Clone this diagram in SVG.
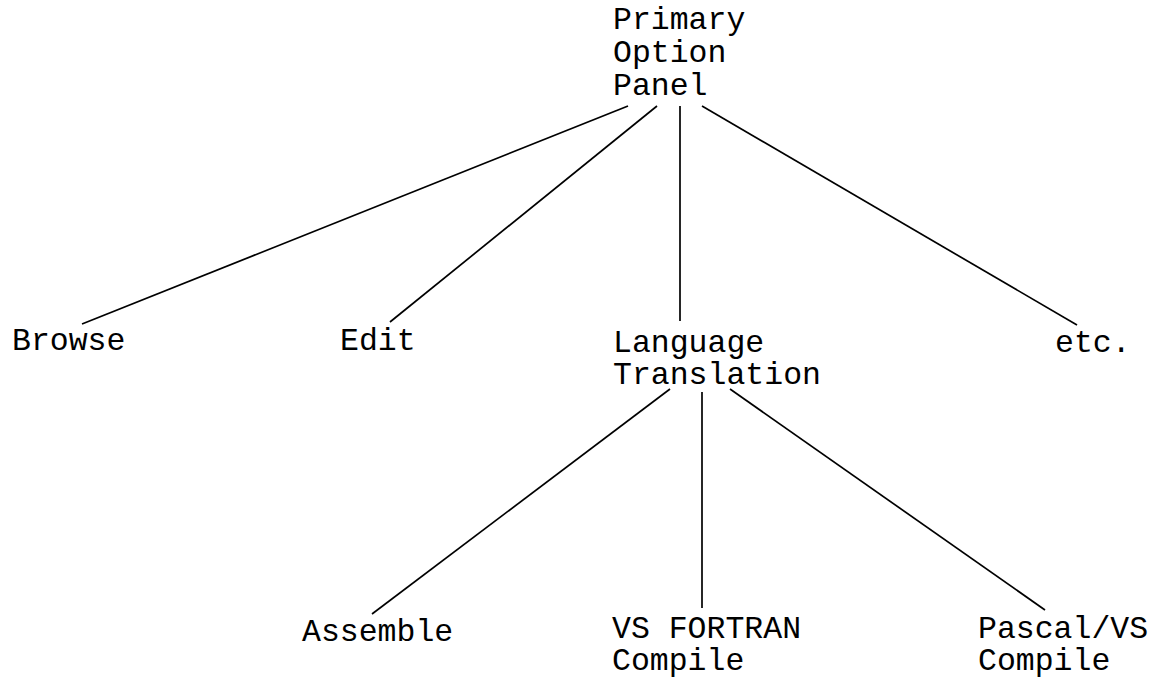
<svg xmlns="http://www.w3.org/2000/svg" width="1157" height="677" viewBox="0 0 1157 677">
<style>
text{font-family:"Liberation Mono","DejaVu Sans Mono",monospace;font-size:31.5px;fill:#000}
.c line{stroke:#000;stroke-width:1.7}
</style>
<rect width="1157" height="677" fill="#fff"/>
<g class="c" id="connectors">
<line x1="628" y1="106" x2="82" y2="324"/>
<line x1="657" y1="106" x2="390" y2="322"/>
<line x1="680" y1="106" x2="680" y2="321"/>
<line x1="702" y1="106" x2="1077" y2="325"/>
<line x1="670" y1="389" x2="372" y2="614"/>
<line x1="702" y1="392" x2="702" y2="608"/>
<line x1="730" y1="389" x2="1045" y2="610"/>
</g>
<g id="primary"><text x="613" y="29">Primary</text><text x="613" y="62">Option</text><text x="613" y="95">Panel</text></g>
<g id="browse"><text x="12" y="350">Browse</text></g>
<g id="edit"><text x="340" y="350">Edit</text></g>
<g id="language"><text x="613" y="352">Language</text><text x="613" y="384">Translation</text></g>
<g id="etc"><text x="1055" y="352">etc.</text></g>
<g id="assemble"><text x="302" y="641">Assemble</text></g>
<g id="fortran"><text x="612" y="638">VS FORTRAN</text><text x="612" y="670">Compile</text></g>
<g id="pascal"><text x="978" y="638">Pascal/VS</text><text x="978" y="670">Compile</text></g>
</svg>
